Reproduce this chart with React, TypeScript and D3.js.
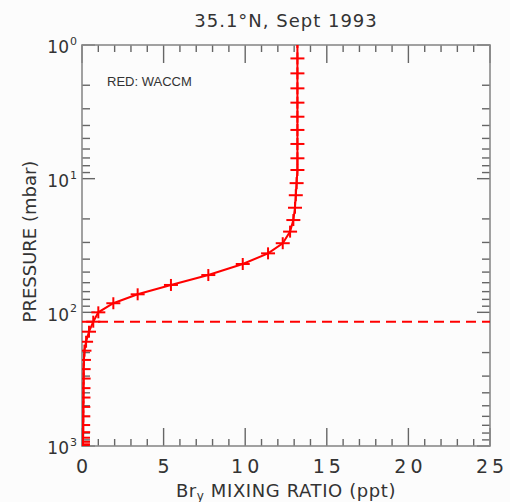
import React from "react";
import * as d3 from "d3";

const titleText = "35.1°N, Sept 1993";
const legendText = "RED: WACCM";
const xTicks = [0, 5, 10, 15, 20, 25];
const yDecades = [1, 10, 100, 1000];
const yTickExponents = ["0", "1", "2", "3"];

// WACCM Bry profile (pressure in mbar, Bry in ppt)
const pressure = [
  0.95, 1.26, 1.63, 2.11, 2.7, 3.44, 4.32, 5.5, 7.04, 8.61, 10.8, 13.3, 16.5, 20.4,
  24.9, 30.4, 36.2, 43.5, 52.6, 62.4, 73.3, 85.5, 100, 117.5, 139.6, 166, 193.6, 227,
  266, 313, 369, 434, 510, 600, 697, 788, 867, 930, 971, 993,
];
const bry = [
  13.2, 13.2, 13.2, 13.2, 13.2, 13.2, 13.2, 13.2, 13.2, 13.2, 13.15, 13.1, 13.05, 12.95,
  12.75, 12.3, 11.4, 9.85, 7.74, 5.45, 3.41, 1.92, 1.0, 0.69, 0.43, 0.25, 0.15, 0.12,
  0.1, 0.1, 0.09, 0.09, 0.08, 0.08, 0.07, 0.07, 0.06, 0.06, 0.06, 0.05,
];
const tropopause = 117.5;

const W = 510;
const H = 502;
const L = 82, R = 490, T = 45, B = 446;

export default function App() {
  const x = d3.scaleLinear().domain([0, 25]).range([L, R]);
  const y = d3.scaleLog().domain([1, 1000]).range([T, B]);
  const pts = pressure.map((p, i) => [bry[i], p] as [number, number]);
  const line = d3
    .line<[number, number]>()
    .x((d) => x(d[0]))
    .y((d) => y(d[1]));

  const xMinor = d3.range(0, 26, 1).filter((v) => v % 5 !== 0);
  const yMinor: number[] = [];
  for (let dec = 1; dec < 1000; dec *= 10) {
    for (let k = 2; k <= 9; k++) yMinor.push(dec * k);
  }
  const tickCol = "#666";
  const textCol = "#333";
  const font = "'DejaVu Sans', 'Liberation Sans', sans-serif";

  return (
    <svg
      width={W}
      height={H}
      style={{ position: "absolute", left: 0, top: 0, display: "block" }}
      fontFamily={font}
    >
      <rect x={0} y={0} width={W} height={H} fill="#fcfcfc" />
      <defs>
        <clipPath id="plotclip">
          <rect x={L} y={T} width={R - L} height={B - T} />
        </clipPath>
      </defs>

      {/* title */}
      <text x={286} y={26.5} textAnchor="middle" fontSize={18} letterSpacing={1} fill={textCol}>
        {titleText}
      </text>

      {/* x ticks */}
      {xTicks.map((v) => (
        <g key={"xM" + v}>
          <line x1={x(v)} x2={x(v)} y1={B} y2={B - 18} stroke={tickCol} strokeWidth={1.4} />
          <line x1={x(v)} x2={x(v)} y1={T} y2={T + 18} stroke={tickCol} strokeWidth={1.4} />
          <text x={x(v) + 2} y={473} textAnchor="middle" fontSize={19} letterSpacing={4} fill={textCol}>
            {String(v)}
          </text>
        </g>
      ))}
      {xMinor.map((v) => (
        <g key={"xm" + v}>
          <line x1={x(v)} x2={x(v)} y1={B} y2={B - 7} stroke={tickCol} strokeWidth={1.4} />
          <line x1={x(v)} x2={x(v)} y1={T} y2={T + 7} stroke={tickCol} strokeWidth={1.4} />
        </g>
      ))}

      {/* y ticks */}
      {yDecades.map((v, i) => (
        <g key={"yM" + v}>
          <line x1={L} x2={L + 13} y1={y(v)} y2={y(v)} stroke={tickCol} strokeWidth={1.4} />
          <line x1={R} x2={R - 13} y1={y(v)} y2={y(v)} stroke={tickCol} strokeWidth={1.4} />
          <text x={77} y={y(v) + 8.3} textAnchor="end" fontSize={17} fill={textCol}>
            <tspan>10</tspan>
            <tspan fontSize={11} dx={1} dy={-8.3}>
              {yTickExponents[i]}
            </tspan>
          </text>
        </g>
      ))}
      {yMinor.map((v) => (
        <g key={"ym" + v}>
          <line x1={L} x2={L + 8} y1={y(v)} y2={y(v)} stroke={tickCol} strokeWidth={1.4} />
          <line x1={R} x2={R - 8} y1={y(v)} y2={y(v)} stroke={tickCol} strokeWidth={1.4} />
        </g>
      ))}

      {/* frame */}
      <rect x={L} y={T} width={R - L} height={B - T} fill="none" stroke="#8a8a8a" strokeWidth={1.6} />

      {/* axis labels */}
      <text
        transform="translate(36,241.5) rotate(-90)"
        textAnchor="middle"
        fontSize={18}
        fill={textCol}
      >
        PRESSURE (mbar)
      </text>
      <text x={286} y={497} textAnchor="middle" fontSize={18} letterSpacing={0.6} fill={textCol}>
        <tspan>Br</tspan>
        <tspan fontSize={12} dy={3}>y</tspan>
        <tspan dy={-3}> MIXING RATIO (ppt)</tspan>
      </text>

      {/* legend */}
      <text x={107} y={86} fontSize={13} fill={textCol} fontFamily="'Liberation Sans', Arial, sans-serif">
        {legendText}
      </text>

      {/* data */}
      <g clipPath="url(#plotclip)">
        <line
          x1={L}
          x2={R}
          y1={y(tropopause)}
          y2={y(tropopause)}
          stroke="#ff0000"
          strokeWidth={2}
          strokeDasharray="10,6"
        />
        <path d={line(pts) || ""} fill="none" stroke="#ff0000" strokeWidth={2} />
        {pts.map((d, i) => (
          <g key={"m" + i} stroke="#ff0000" strokeWidth={2}>
            <line x1={x(d[0]) - 7} x2={x(d[0]) + 7} y1={y(d[1])} y2={y(d[1])} />
            <line x1={x(d[0])} x2={x(d[0])} y1={y(d[1]) - 6} y2={y(d[1]) + 6} />
          </g>
        ))}
      </g>
    </svg>
  );
}
